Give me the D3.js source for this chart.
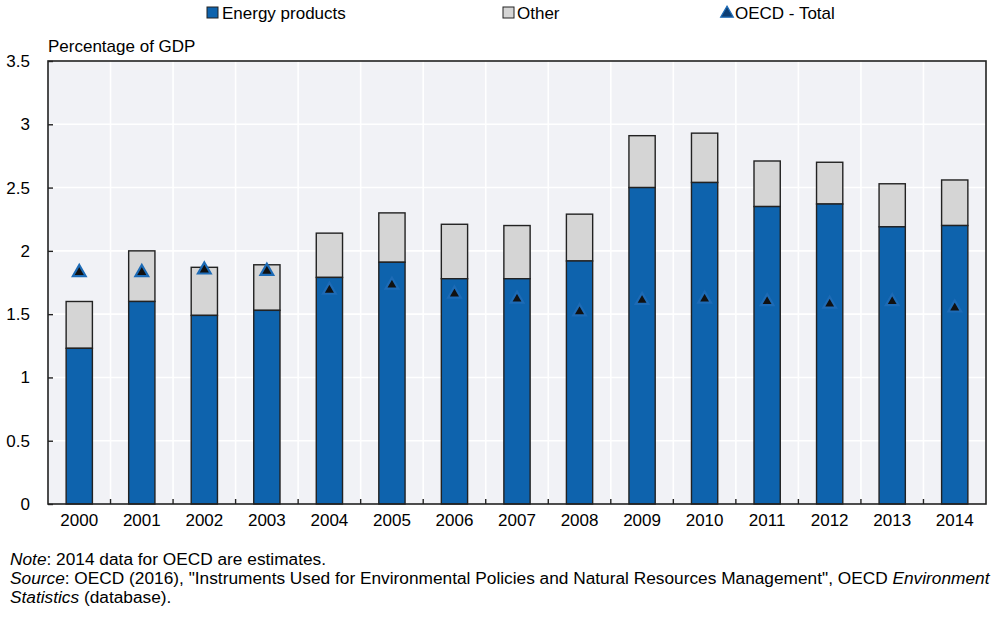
<!DOCTYPE html>
<html>
<head>
<meta charset="utf-8">
<script src="https://cdn.jsdelivr.net/npm/d3@7"></script>
<style>
  html, body { margin: 0; padding: 0; background: #fff; }
  svg { display: block; }
  text { font-family: "Liberation Sans", Arial, sans-serif; fill: #000; }
</style>
</head>
<body>
<svg id="chart" width="1000" height="624"></svg>
<script>
const years = ["2000","2001","2002","2003","2004","2005","2006","2007","2008","2009","2010","2011","2012","2013","2014"];
const energy = [1.23, 1.60, 1.49, 1.53, 1.79, 1.91, 1.78, 1.78, 1.92, 2.50, 2.54, 2.35, 2.37, 2.19, 2.20];
const total  = [1.60, 2.00, 1.87, 1.89, 2.14, 2.30, 2.21, 2.20, 2.29, 2.91, 2.93, 2.71, 2.70, 2.53, 2.56];
const oecdTotal = [1.83, 1.83, 1.85, 1.84, 1.69, 1.73, 1.66, 1.62, 1.52, 1.61, 1.62, 1.60, 1.58, 1.60, 1.55];
const yTicks = [0, 0.5, 1, 1.5, 2, 2.5, 3, 3.5];
const legendLabels = ["Energy products", "Other", "OECD - Total"];

const BLUE = "#0e63ad", GREY = "#d5d5d5", DARK = "#222";
const FS = 17;
const svg = d3.select("#chart");
const L = 48, R = 986, T = 61, B = 504;

const x = d3.scaleBand().domain(years).range([L, R]).paddingInner(0.58).paddingOuter(0.29);
const xb = d3.scaleBand().domain(years).range([L, R]);
const y = d3.scaleLinear().domain([0, 3.5]).range([B, T]);

// plot background
svg.append("rect").attr("x", L).attr("y", T).attr("width", R - L).attr("height", B - T).attr("fill", "#f1f2f6");

// grid
svg.append("g").selectAll("line").data(yTicks.slice(1, -1)).join("line")
  .attr("x1", L).attr("x2", R).attr("y1", d => y(d)).attr("y2", d => y(d))
  .attr("stroke", "#fff").attr("stroke-width", 1.6);
svg.append("g").selectAll("line").data(years.slice(1)).join("line")
  .attr("x1", d => xb(d)).attr("x2", d => xb(d)).attr("y1", T).attr("y2", B)
  .attr("stroke", "#fff").attr("stroke-width", 1.6);

// bars
const bars = svg.append("g");
years.forEach((yr, i) => {
  bars.append("rect").attr("x", x(yr)).attr("width", x.bandwidth())
    .attr("y", y(total[i])).attr("height", y(energy[i]) - y(total[i]))
    .attr("fill", GREY).attr("stroke", DARK).attr("stroke-width", 1.4);
  bars.append("rect").attr("x", x(yr)).attr("width", x.bandwidth())
    .attr("y", y(energy[i])).attr("height", y(0) - y(energy[i]))
    .attr("fill", BLUE).attr("stroke", DARK).attr("stroke-width", 1.4);
});

// frame
svg.append("rect").attr("x", L).attr("y", T).attr("width", R - L).attr("height", B - T)
  .attr("fill", "none").attr("stroke", DARK).attr("stroke-width", 1.6);

// y axis
const yAxis = d3.axisLeft(y).tickValues(yTicks).tickSize(-5).tickPadding(18).tickFormat(d3.format("~g"));
const gy = svg.append("g").attr("transform", `translate(${L},0)`).call(yAxis);
gy.select(".domain").remove();
gy.selectAll(".tick line").attr("stroke", DARK).attr("stroke-width", 1.4);
gy.selectAll(".tick text").attr("font-size", FS).attr("fill", "#000")
  .style("font-family", '"Liberation Sans", Arial, sans-serif');

// x axis
const xAxis = d3.axisBottom(xb).tickSize(0).tickPadding(10);
const gx = svg.append("g").attr("transform", `translate(0,${B})`).call(xAxis);
gx.select(".domain").remove();
gx.selectAll(".tick text").attr("font-size", FS).attr("fill", "#000")
  .style("font-family", '"Liberation Sans", Arial, sans-serif');
svg.append("g").selectAll("line").data(years.slice(1)).join("line")
  .attr("x1", d => xb(d)).attr("x2", d => xb(d)).attr("y1", B).attr("y2", B - 5)
  .attr("stroke", DARK).attr("stroke-width", 1.4);

// triangles
const tri = d3.symbol().type(d3.symbolTriangle).size(70);
svg.append("g").selectAll("path").data(oecdTotal).join("path")
  .attr("d", tri)
  .attr("transform", (d, i) => `translate(${xb(years[i]) + xb.bandwidth() / 2},${y(d)})`)
  .attr("fill", "#111").attr("stroke", "#1d6bb6").attr("stroke-width", 2.2);

// axis title
svg.append("text").attr("x", L).attr("y", 52).attr("font-size", FS).text("Percentage of GDP");

// legend
const lg = svg.append("g");
lg.append("rect").attr("x", 207).attr("y", 7).attr("width", 11).attr("height", 11)
  .attr("fill", BLUE).attr("stroke", DARK).attr("stroke-width", 1);
lg.append("text").attr("x", 222).attr("y", 19).attr("font-size", FS).text(legendLabels[0]);
lg.append("rect").attr("x", 503).attr("y", 7).attr("width", 11).attr("height", 11)
  .attr("fill", GREY).attr("stroke", DARK).attr("stroke-width", 1);
lg.append("text").attr("x", 517).attr("y", 19).attr("font-size", FS).text(legendLabels[1]);
lg.append("path").attr("d", d3.symbol().type(d3.symbolTriangle).size(70))
  .attr("transform", "translate(727,13.5)").attr("fill", "#0d3e73").attr("stroke", "#1d6bb6").attr("stroke-width", 1.2);
lg.append("text").attr("x", 735).attr("y", 19).attr("font-size", FS).text(legendLabels[2]);

// footer
const ft = svg.append("g").attr("font-size", 17.3);
const t1 = ft.append("text").attr("x", 10).attr("y", 565);
t1.append("tspan").attr("font-style", "italic").text("Note");
t1.append("tspan").text(": 2014 data for OECD are estimates.");
const t2 = ft.append("text").attr("x", 10).attr("y", 584);
t2.append("tspan").attr("font-style", "italic").text("Source");
t2.append("tspan").text(": OECD (2016), \"Instruments Used for Environmental Policies and Natural Resources Management\", OECD ");
t2.append("tspan").attr("font-style", "italic").text("Environment");
const t3 = ft.append("text").attr("x", 10).attr("y", 603);
t3.append("tspan").attr("font-style", "italic").text("Statistics");
t3.append("tspan").text(" (database).");
</script>
</body>
</html>
